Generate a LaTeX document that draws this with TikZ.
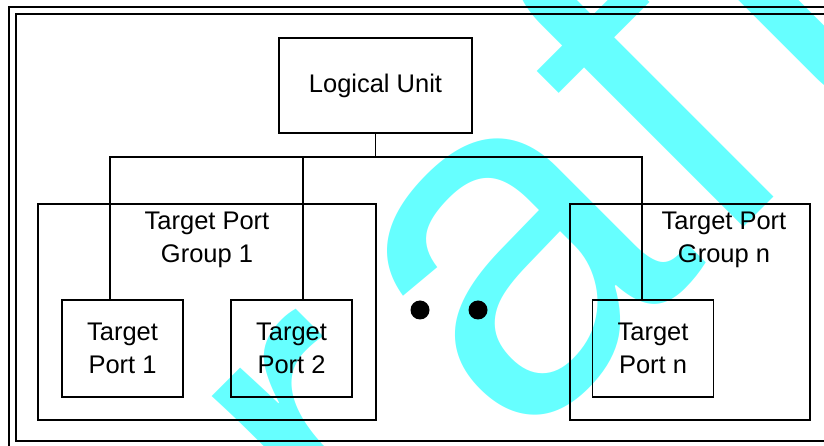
\documentclass[tikz,border=0pt]{standalone}
\usepackage{fontspec}
\setmainfont{Liberation Sans}
\usetikzlibrary{positioning}
\definecolor{draftcyan}{RGB}{102,255,255}

\begin{document}
\begin{tikzpicture}[line width=1pt,
    every node/.style={font=\fontsize{14.5}{18.5}\selectfont},
    unitbox/.style={draw, minimum width=3.86cm, minimum height=1.9cm},
    portbox/.style={draw, align=center, minimum width=2.42cm, minimum height=1.94cm},
    groupbox/.style={draw, minimum height=4.32cm},
    grouplabel/.style={align=center},
    dot/.style={circle, fill, inner sep=0pt, minimum size=0.38cm}]
    \useasboundingbox (0,0) rectangle (16.48,8.92);
    % watermark
    \begin{scope}
        \clip (0,0) rectangle (16.48,8.92);
        \node[font=\fontsize{276}{276}\selectfont, text=draftcyan, rotate=45, anchor=base west, inner sep=0pt] (draft) at (2.04,-8.46) {D\kern0.06em r\kern0.093em a\kern0.016em f\kern0.058em t};
        % frame
        \draw (0.18,-0.04) rectangle (16.6,8.78);
        \draw (0.32,0.1) rectangle (16.55,8.64);
    \end{scope}
    \node[unitbox] (lu) at (7.51,7.21) {Logical Unit};
    \node[groupbox, minimum width=6.76cm] (grp1) at (4.14,2.68) {};
    \node[groupbox, minimum width=4.8cm] (grpn) at (13.8,2.68) {};
    \node[grouplabel] (lbl1) at (4.14,4.12) {Target Port\\Group 1};
    \node[grouplabel] (lbln) at (14.48,4.12) {Target Port\\Group n};
    \node[portbox] (tp1) at (2.45,1.95) {Target\\Port 1};
    \node[portbox] (tp2) at (5.83,1.95) {Target\\Port 2};
    \node[portbox] (tpn) at (13.06,1.95) {Target\\Port n};
    \node[dot] (dot1) at (8.4,2.72) {};
    \node[dot] (dot2) at (9.56,2.72) {};
    \coordinate (bus) at (lu.south |- 0,5.78);
    \draw (lu.south) -- (bus);
    \draw ([xshift=-0.25cm]tp1.north) |- (bus) -| ([xshift=-0.22cm]tpn.north);
    \draw ([xshift=0.23cm]tp2.north) -- ([xshift=0.23cm]tp2.north |- bus);
\end{tikzpicture}
\end{document}
